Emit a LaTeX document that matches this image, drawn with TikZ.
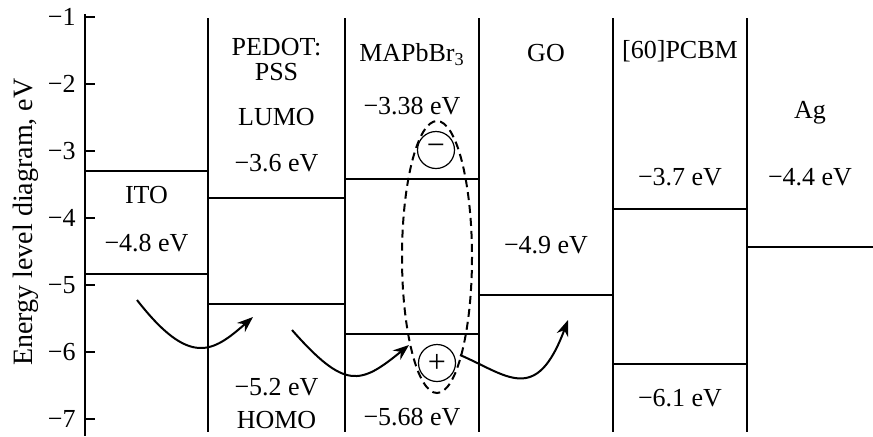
\documentclass[tikz,border=0pt]{standalone}
\usepackage{fontspec}
\setmainfont{Liberation Serif}
\usetikzlibrary{arrows.meta}
\begin{document}
\begin{tikzpicture}[x=0.5pt,y=-0.5pt,
  lbl/.style={anchor=base,inner sep=0pt,font=\fontsize{13}{15}\selectfont},
  ticklbl/.style={anchor=base east,inner sep=0pt,font=\fontsize{13}{15}\selectfont},
  lvl/.style={line width=1pt},
  sepline/.style={line width=1pt},
  axisline/.style={line width=1.3pt},
  hop/.style={line width=1pt,-{Stealth[length=8pt,width=6pt]}},
  charge/.style={circle,draw,line width=0.6pt,minimum size=18.5pt,inner sep=0pt,font=\fontsize{16}{16}\selectfont},
  exciton/.style={dash pattern=on 4pt off 2.5pt,line width=1pt}]
\useasboundingbox (0,0) rectangle (873,436);
% axis
\draw[axisline] (85,14) -- (85,436);
\foreach \k/\t in {0/1,1/2,2/3,3/4,4/5,5/6,6/7}{
  \draw[axisline] (85,17+67*\k) -- (95,17+67*\k);
  \node[ticklbl] (tick\t) at (76,17+67*\k+8.5) {−\t};
}
\node[rotate=90,inner sep=0pt,font=\fontsize{14}{16}\selectfont] (ylab) at (26,222) {Energy level diagram, eV};
% separators
\foreach \x in {208,345,479,613,747}{
  \draw[sepline] (\x,18) -- (\x,432);
}
% levels
\draw[lvl] (85,171) -- (208,171);
\draw[lvl] (85,274) -- (208,274);
\draw[lvl] (208,198) -- (345,198);
\draw[lvl] (208,304) -- (345,304);
\draw[lvl] (345,179) -- (479,179);
\draw[lvl] (345,334) -- (479,334);
\draw[lvl] (479,295) -- (613,295);
\draw[lvl] (613,209) -- (747,209);
\draw[lvl] (613,364) -- (747,364);
\draw[lvl] (747,247) -- (873,247);
% labels
\node[lbl] (ito) at (146.5,195+8.5) {ITO};
\node[lbl] (itoE) at (146.5,243+8.5) {−4.8 eV};
\node[lbl] (pedot) at (276.5,47+8.5) {PEDOT:};
\node[lbl] (pss) at (276.5,72+8.5) {PSS};
\node[lbl] (lumo) at (276.5,117+8.5) {LUMO};
\node[lbl] (pedotL) at (276.5,163+8.5) {−3.6 eV};
\node[lbl] (pedotH) at (276.5,387+8.5) {−5.2 eV};
\node[lbl] (homo) at (276.5,420+8.5) {HOMO};
\node[lbl] (mapb) at (412,53+8.5) {MAPbBr\textsubscript{3}};
\node[lbl] (mapbL) at (412,106+8.5) {−3.38 eV};
\node[lbl] (mapbH) at (412,417+8.5) {−5.68 eV};
\node[lbl] (go) at (546,53+8.5) {GO};
\node[lbl] (goE) at (546,245+8.5) {−4.9 eV};
\node[lbl] (pcbm) at (680,50+8.5) {[60]PCBM};
\node[lbl] (pcbmL) at (680,177+8.5) {−3.7 eV};
\node[lbl] (pcbmH) at (680,398+8.5) {−6.1 eV};
\node[lbl] (ag) at (810,110+8.5) {Ag};
\node[lbl] (agE) at (810,177+8.5) {−4.4 eV};
% exciton
\draw[exciton] (437,257) ellipse [x radius=35, y radius=136];
\node[charge] (minus) at (436,150) {−};
\node[charge] (plus) at (437,363) {+};
% hops
\coordinate (h1s) at (137,300);
\coordinate (h1e) at (253,317);
\coordinate (h2s) at (292,330);
\coordinate (h2e) at (409,345);
\coordinate (h3s) at (460,355);
\coordinate (h3e) at (568,320);
\draw[hop] (h1s) .. controls (190,368) and (213,352) .. (h1e);
\draw[hop] (h2s) .. controls (345,390) and (360,385) .. (h2e);
\draw[hop] (h3s) .. controls (507,375) and (536,406) .. (h3e);
\end{tikzpicture}
\end{document}
